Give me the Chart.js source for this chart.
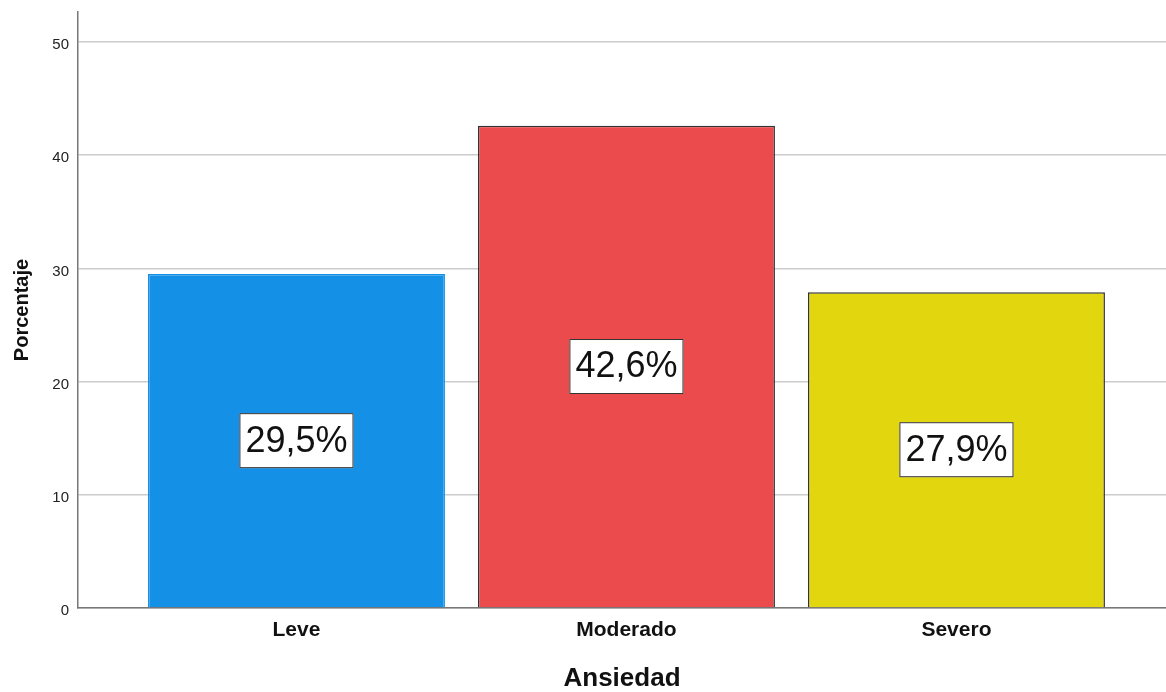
<!DOCTYPE html>
<html>
<head>
<meta charset="utf-8">
<script src="https://cdn.jsdelivr.net/npm/chart.js@4/dist/chart.umd.min.js"></script>
<style>
  html, body { margin: 0; padding: 0; background: #fff; }
  #wrap { width: 1166px; height: 692px; }
</style>
</head>
<body>
<div id="wrap"><canvas id="myChart"></canvas></div>
<script>
// data
var categories = ['Leve', 'Moderado', 'Severo'];
var percents = [29.5, 42.6, 27.9];
var barColors = ['#1491e6', '#eb4b4d', '#e2d60f'];
var borderColors = ['#1491e6', '#333333', '#333333'];
var yTicks = [0, 10, 20, 30, 40, 50];

var ctx = document.getElementById('myChart');

// white box with the percentage in the middle of each bar
var boxLabels = {
	id: 'boxLabels',
	afterDatasetsDraw: function(chart) {
		var c = chart.ctx;
		var meta = chart.getDatasetMeta(0);
		c.save();
		c.font = '36px "Liberation Sans", Arial, sans-serif';
		c.textAlign = 'center';
		c.textBaseline = 'middle';
		meta.data.forEach(function(bar, i) {
			var txt = percents[i].toFixed(1).replace('.', ',') + '%';
			var w = c.measureText(txt).width + 12;
			var h = 55;
			var cy = (bar.y + bar.base) / 2;
			c.fillStyle = '#ffffff';
			c.fillRect(bar.x - w / 2, cy - h / 2, w, h);
			c.strokeStyle = '#333333';
			c.lineWidth = 1;
			c.strokeRect(bar.x - w / 2 + 0.5, cy - h / 2 + 0.5, w - 1, h - 1);
			c.fillStyle = '#111111';
			c.fillText(txt, bar.x, cy + 1);
		});
		c.restore();
	}
};

var points = percents.map(function(v, i) { return { x: i, y: v }; });

new Chart(ctx, {
	type: 'bar',
	data: {
		datasets: [{
			data: points,
			backgroundColor: barColors,
			borderColor: borderColors,
			borderWidth: 1.5,
			barPercentage: 0.9,
			categoryPercentage: 1
		}]
	},
	options: {
		responsive: true,
		maintainAspectRatio: false,
		animation: false,
		layout: { padding: { top: 12, right: 0, left: 0, bottom: 0 } },
		plugins: {
			legend: { display: false },
			tooltip: { enabled: false }
		},
		scales: {
			x: {
				type: 'linear',
				offset: false,
				min: -0.662,
				max: 2.635,
				afterFit: function(axis) {
					axis.height = 84;
					axis.paddingLeft = 0;
					axis.paddingRight = 0;
				},
				afterBuildTicks: function(axis) {
					axis.ticks = categories.map(function(c, i) { return { value: i }; });
				},
				grid: { display: false, drawTicks: false },
				border: { color: '#777777', width: 1.5 },
				ticks: {
					padding: 10,
					color: '#111111',
					font: { family: '"Liberation Sans", Arial, sans-serif', size: 21, weight: 'bold' },
					callback: function(v) { return categories[v]; }
				},
				title: {
					display: true,
					text: 'Ansiedad',
					color: '#111111',
					font: { family: '"Liberation Sans", Arial, sans-serif', size: 26, weight: 'bold', lineHeight: 1 },
					padding: { top: 0, bottom: 0 }
				}
			},
			y: {
				min: 0,
				max: 52.65,
				afterFit: function(axis) {
					axis.width = 78;
					axis.paddingTop = 0;
					axis.paddingBottom = 0;
				},
				afterBuildTicks: function(axis) {
					axis.ticks = yTicks.map(function(v) { return { value: v }; });
				},
				grid: { color: '#cccccc', lineWidth: 1.5, drawTicks: false },
				border: { color: '#777777', width: 1.5 },
				ticks: {
					padding: 9,
					labelOffset: 3,
					color: '#222222',
					font: { family: '"Liberation Sans", Arial, sans-serif', size: 15 }
				},
				title: {
					display: true,
					text: 'Porcentaje',
					color: '#111111',
					font: { family: '"Liberation Sans", Arial, sans-serif', size: 20, weight: 'bold', lineHeight: 1 },
					padding: { top: 12, bottom: 0 }
				}
			}
		}
	},
	plugins: [boxLabels]
});
</script>
</body>
</html>
